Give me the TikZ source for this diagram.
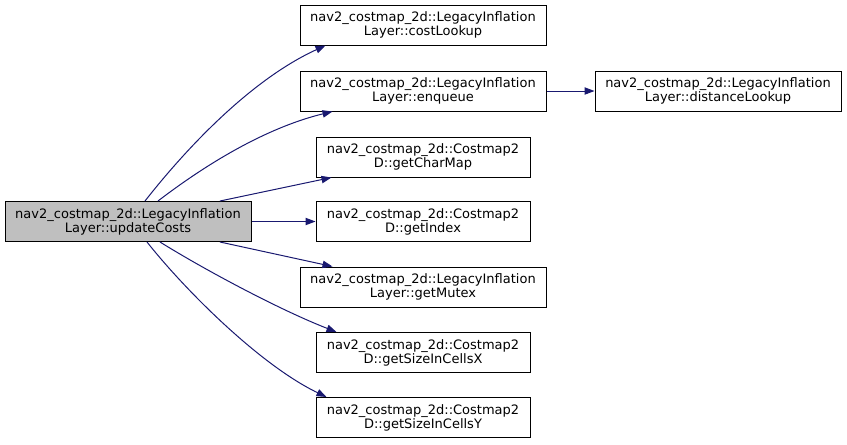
\documentclass[tikz,border=0pt]{standalone}
\usepackage{fontspec}
\setmainfont{DejaVu Sans}
\usetikzlibrary{arrows.meta,calc}
\definecolor{edgeblue}{HTML}{191970}
\definecolor{rootgray}{HTML}{BFBFBF}
\begin{document}
\begin{tikzpicture}[x=0.75pt,y=-0.75pt,
  fn/.style={draw=black,line width=0.75pt,fill=white,align=center,inner sep=0pt,
    minimum height=30pt,font=\fontsize{9.75}{10.5}\selectfont},
  wide/.style={fn,minimum width=184.5pt},
  narrow/.style={fn,minimum width=160.5pt},
  call/.style={draw=edgeblue,line width=0.75pt,-{Triangle[length=7.5pt,width=5.5pt]}}]
\useasboundingbox (0,0) rectangle (847,444);
\node[wide,fill=rootgray] (root) at (128,221.5) {nav2\_costmap\_2d::LegacyInflation\\Layer::updateCosts};
\node[wide] (cost) at (423,25) {nav2\_costmap\_2d::LegacyInflation\\Layer::costLookup};
\node[wide] (enq) at (423,91) {nav2\_costmap\_2d::LegacyInflation\\Layer::enqueue};
\node[wide] (dist) at (718,91) {nav2\_costmap\_2d::LegacyInflation\\Layer::distanceLookup};
\node[narrow] (charmap) at (423,157) {nav2\_costmap\_2d::Costmap2\\D::getCharMap};
\node[narrow] (index) at (423,221.5) {nav2\_costmap\_2d::Costmap2\\D::getIndex};
\node[wide] (mutex) at (423,287) {nav2\_costmap\_2d::LegacyInflation\\Layer::getMutex};
\node[narrow] (sizex) at (423,352.5) {nav2\_costmap\_2d::Costmap2\\D::getSizeInCellsX};
\node[narrow] (sizey) at (423,417.5) {nav2\_costmap\_2d::Costmap2\\D::getSizeInCellsY};

\draw[call] ($(root.north)+(17,0)$) .. controls (185,150) and (250,80) .. ($(cost.south west)+(26,0)$);
\draw[call] ($(root.north)+(30,0)$) .. controls (205,165) and (265,128) .. ($(enq.south west)+(33,0)$);
\draw[call] ($(root.north)+(92,0)$) -- ($(charmap.south west)+(16,0)$);
\draw[call] (root.east) -- (index.west);
\draw[call] ($(root.south)+(92,0)$) -- ($(mutex.north west)+(33,0)$);
\draw[call] ($(root.south)+(32,0)$) .. controls (205,270) and (280,310) .. ($(sizex.north west)+(21,0)$);
\draw[call] ($(root.south)+(19,0)$) .. controls (185,290) and (260,365) .. ($(sizey.north west)+(11,0)$);
\draw[call] (enq.east) -- (dist.west);
\end{tikzpicture}
\end{document}
